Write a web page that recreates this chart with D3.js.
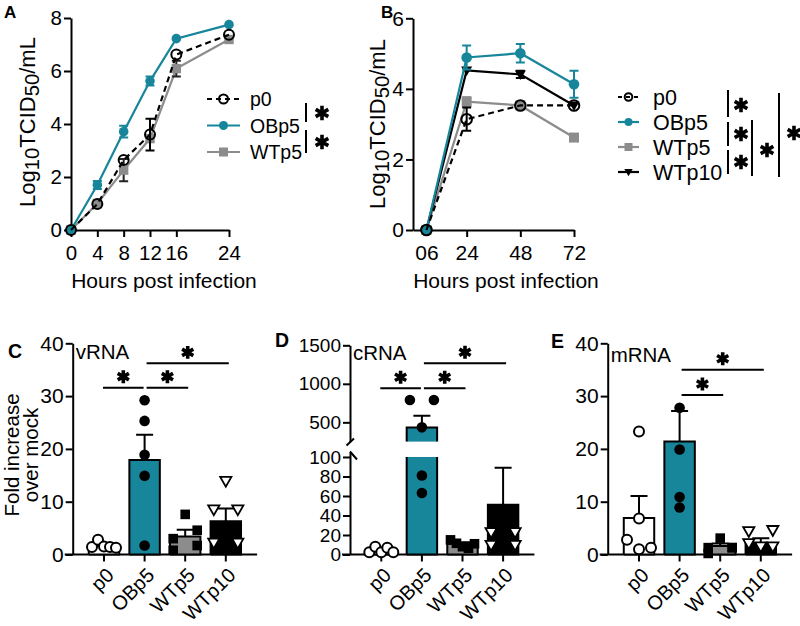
<!DOCTYPE html>
<html>
<head>
<meta charset="utf-8">
<script src="https://cdn.jsdelivr.net/npm/d3@7"></script>
<style>
  body { margin: 0; background: #fff; }
  svg { display: block; font-family: "Liberation Sans", Arial, Helvetica, sans-serif; }
</style>
</head>
<body>
<div id="wrapper"></div>
<script>
// ---- panel A : virus titre, 0-24 h (log10 TCID50/mL)
const hoursA = [0, 4, 8, 12, 16, 24]
const p0A = [0, 0.98, 2.64, 3.6, 6.62, 7.37]
const p0AErr = [0, 0, 0, 0.6, 0, 0]
const obp5A = [0, 1.7, 3.71, 5.62, 7.22, 7.75]
const obp5AErr = [0, 0.15, 0.22, 0.17, 0, 0]
const wtp5A = [0, 1.0, 2.26, 3.45, 6.09, 7.19]
const wtp5AErr = [0, 0, 0.42, 0, 0.3, 0]
const xTicksA = [0, 4, 8, 12, 16, 24]
const yTicksA = [0, 2, 4, 6, 8]

// ---- panel B : virus titre, 6-72 h
const hoursB = [6, 24, 48, 72]
const p0B = [0, 3.14, 3.53, 3.53]
const p0BErr = [0, 0.33, 0, 0]
const obp5B = [0, 4.89, 5.01, 4.13]
const obp5BErr = [0, 0.34, 0.26, 0.38]
const wtp5B = [0, 3.64, 3.53, 2.62]
const wtp5BErr = [0, 0.12, 0, 0.08]
const wtp10B = [0, 4.52, 4.41, 3.53]
const wtp10BErr = [0, 0, 0.1, 0]
const xTicksB = [6, 24, 48, 72]
const xTickLabelsB = ["06", "24", "48", "72"]
const yTicksB = [0, 2, 4, 6]

// ---- panels C-E : fold increase over mock
const groups = ["p0", "OBp5", "WTp5", "WTp10"]

const vrnaMean = [1.6, 17.9, 3.4, 6.3]
const vrnaSem = [0.3, 4.8, 1.3, 2.4]
const vrnaPoints = [
  [1.4, 2.8, 1.5, 1.4, 1.3],
  [29.2, 25.3, 18.9, 14.9, 1.7],
  [7.6, 4.6, 3.0, 1.7, 0.8],
  [13.9, 8.5, 8.5, 2.2, 2.2]
]
const vrnaTicks = [0, 10, 20, 30, 40]
const vrnaSig = [["p0", "OBp5", 31.6], ["OBp5", "WTp5", 31.6], ["OBp5", "WTp10", 36.2]]

const crnaMean = [4.4, 432, 11, 51]
const crnaSem = [1.5, 154, 1.5, 38]
const crnaPoints = [
  [2.3, 8, 2.3, 7, 2.3],
  [790, 790, 435, 81, 63],
  [15, 11.5, 8, 6.4, 11],
  [22.7, 22.7, 9.7, 9.7]
]
const crnaTicksLow = [0, 20, 40, 60, 80, 100]
const crnaTicksHigh = [500, 1000, 1500]
const crnaSig = [["p0", "OBp5", 942], ["OBp5", "WTp5", 942], ["OBp5", "WTp10", 1266]]

const mrnaMean = [6.9, 21.4, 1.6, 2.2]
const mrnaSem = [4.2, 5.8, 0.5, 0.9]
const mrnaPoints = [
  [23.3, 6.8, 2.8, 1.0, 1.3],
  [27.8, 19.9, 10.9, 8.9],
  [3.1, 1.3, 0.2, 1.3, 1.3],
  [4.6, 4.4, 2.1, 1.5, 1.5]
]
const mrnaTicks = [0, 10, 20, 30, 40]
const mrnaSig = [["OBp5", "WTp5", 30.2], ["OBp5", "WTp10", 35.0]]

// colours
const teal = "#17869b"
const grey = "#8c8c8c"

function drawFigure() {
  const svg = d3.select("#wrapper").append("svg")
      .attr("width", 800)
      .attr("height", 626)
  svg.append("rect").attr("width", 800).attr("height", 626).attr("fill", "#fff")

  const plain = d => String(d)

  // ---------- helpers
  const styleAxis = (sel, fontSize) => {
    sel.attr("font-family", null)
    sel.select(".domain").attr("stroke", "#000").attr("stroke-width", 2)
    sel.selectAll(".tick line").attr("stroke", "#000").attr("stroke-width", 2)
    sel.selectAll(".tick text").attr("fill", "#000").attr("font-size", fontSize)
  }

  const marker = (g, shape, x, y, s, color) => {
    if (shape === "openCircle") {
      g.append("circle").attr("cx", x).attr("cy", y).attr("r", s)
        .attr("fill", "none").attr("stroke", color).attr("stroke-width", 2)
    } else if (shape === "whiteCircle") {
      g.append("circle").attr("cx", x).attr("cy", y).attr("r", s)
        .attr("fill", "#fff").attr("stroke", color).attr("stroke-width", 2)
    } else if (shape === "circle") {
      g.append("circle").attr("cx", x).attr("cy", y).attr("r", s).attr("fill", color)
    } else if (shape === "square") {
      g.append("rect").attr("x", x - s).attr("y", y - s)
        .attr("width", 2 * s).attr("height", 2 * s).attr("fill", color)
    } else if (shape === "triangleDown") {
      g.append("path")
        .attr("d", `M${x - s * 1.1},${y - s * 0.8}L${x + s * 1.1},${y - s * 0.8}L${x},${y + s * 1.1}Z`)
        .attr("fill", color)
    } else if (shape === "openTriangleDown") {
      g.append("path")
        .attr("d", `M${x - s},${y - s * 0.75}L${x + s},${y - s * 0.75}L${x},${y + s}Z`)
        .attr("fill", "#fff").attr("stroke", color).attr("stroke-width", 1.8)
    }
  }

  const star = (g, x, y, size) => {
    g.append("path")
      .attr("d", d3.symbol(d3.symbolAsterisk, size)())
      .attr("transform", `translate(${x},${y})`)
      .attr("fill", "none")
      .attr("stroke", "#000")
      .attr("stroke-width", 3.6)
  }

  const panelLetter = (x, y, t, fs) => {
    svg.append("text").attr("x", x).attr("y", y)
      .attr("font-size", fs).attr("font-weight", "bold").text(t)
  }

  const log10Label = (x, y, fs) => {
    const t = svg.append("text")
      .attr("transform", `translate(${x},${y}) rotate(-90)`)
      .attr("text-anchor", "middle")
      .attr("font-size", fs)
    t.append("tspan").text("Log")
    t.append("tspan").text("10").attr("dy", 4).attr("font-size", "0.92em")
    t.append("tspan").text("TCID").attr("dy", -4)
    t.append("tspan").text("50").attr("dy", 4).attr("font-size", "0.92em")
    t.append("tspan").text("/mL").attr("dy", -4)
  }

  // ---------- line panels (A, B)
  function drawLinePanel(cfg) {
    const g = svg.append("g")
    const { x, y } = cfg

    const xAxis = g.append("g")
      .attr("transform", `translate(0,${y.range()[0]})`)
      .call(d3.axisBottom(x)
        .tickValues(cfg.xTicks)
        .tickFormat((d, i) => cfg.xTickLabels ? cfg.xTickLabels[i] : plain(d))
        .tickSize(7).tickSizeOuter(0).tickPadding(8))
    styleAxis(xAxis, cfg.tickFont)
    if (cfg.hideFirstTick) xAxis.select(".tick line").remove()

    const yAxis = g.append("g")
      .attr("transform", `translate(${x.range()[0]},0)`)
      .call(d3.axisLeft(y).tickValues(cfg.yTicks).tickFormat(plain)
        .tickSize(7).tickSizeOuter(0).tickPadding(2))
    styleAxis(yAxis, cfg.tickFont)

    cfg.series.forEach(s => {
      const pts = cfg.xs.map((h, i) => [x(h), y(s.values[i])])
      g.append("path")
        .attr("d", d3.line()(pts))
        .attr("fill", "none")
        .attr("stroke", s.color)
        .attr("stroke-width", 2.2)
        .attr("stroke-dasharray", s.dash || null)
      s.err.forEach((e, i) => {
        if (!e) return
        const cx = x(cfg.xs[i])
        const lo = y(s.values[i] - e), hi = y(s.values[i] + e)
        g.append("path")
          .attr("d", `M${cx},${lo}V${hi}M${cx - 4.5},${hi}H${cx + 4.5}M${cx - 4.5},${lo}H${cx + 4.5}`)
          .attr("stroke", s.errColor).attr("stroke-width", 2).attr("fill", "none")
      })
      pts.forEach(p => marker(g, s.shape, p[0], p[1], s.size, s.color))
    })

    // legend
    cfg.legend.forEach((l, i) => {
      const ly = cfg.legendY + i * cfg.legendStep
      g.append("line")
        .attr("x1", cfg.legendX).attr("x2", cfg.legendX + cfg.legendLen)
        .attr("y1", ly).attr("y2", ly)
        .attr("stroke", l.color).attr("stroke-width", 2.2)
        .attr("stroke-dasharray", l.dash || null)
      marker(g, l.shape, cfg.legendX + cfg.legendLen / 2, ly, l.size, l.color)
      g.append("text")
        .attr("x", cfg.legendX + cfg.legendLen + cfg.legendGap)
        .attr("y", ly)
        .attr("dy", "0.36em")
        .attr("font-size", cfg.legendFont)
        .text(l.name)
    })

    // x title
    g.append("text")
      .attr("x", cfg.titleX).attr("y", 288)
      .attr("text-anchor", "middle")
      .attr("font-size", 21)
      .text("Hours post infection")
  }

  const xA = d3.scaleLinear().domain([0, 24]).range([71, 229])
  const yA = d3.scaleLinear().domain([0, 8]).range([230, 18])
  drawLinePanel({
    x: xA, y: yA, xs: hoursA, xTicks: xTicksA, yTicks: yTicksA, tickFont: 20.5,
    series: [
      { values: wtp5A, err: wtp5AErr, color: grey, errColor: "#222", shape: "square", size: 4.7 },
      { values: obp5A, err: obp5AErr, color: teal, errColor: teal, shape: "circle", size: 4.8 },
      { values: p0A, err: p0AErr, color: "#000", errColor: "#000", dash: "6,4", shape: "openCircle", size: 5 }
    ],
    legend: [
      { name: "p0", color: "#000", dash: "5,4", shape: "openCircle", size: 4.5 },
      { name: "OBp5", color: teal, shape: "circle", size: 4.5 },
      { name: "WTp5", color: grey, shape: "square", size: 4.5 }
    ],
    legendX: 207, legendLen: 33, legendGap: 10, legendY: 99, legendStep: 26.5, legendFont: 19.5,
    titleX: 164
  })
  log10Label(35, 122, 22)
  panelLetter(4, 18, "A", 17)

  const xB = d3.scaleLinear().domain([0, 72]).range([413, 574])
  const yB = d3.scaleLinear().domain([0, 6]).range([230, 18.3])
  drawLinePanel({
    x: xB, y: yB, xs: hoursB, xTicks: xTicksB, xTickLabels: xTickLabelsB, yTicks: yTicksB,
    tickFont: 21, hideFirstTick: true,
    series: [
      { values: wtp5B, err: wtp5BErr, color: grey, errColor: grey, shape: "square", size: 5 },
      { values: wtp10B, err: wtp10BErr, color: "#000", errColor: "#000", shape: "triangleDown", size: 5 },
      { values: obp5B, err: obp5BErr, color: teal, errColor: teal, shape: "circle", size: 5.3 },
      { values: p0B, err: p0BErr, color: "#000", errColor: "#000", dash: "6,4", shape: "openCircle", size: 5.3 }
    ],
    legend: [
      { name: "p0", color: "#000", dash: "4,4", shape: "openCircle", size: 3.8 },
      { name: "OBp5", color: teal, shape: "circle", size: 4 },
      { name: "WTp5", color: grey, shape: "square", size: 4 },
      { name: "WTp10", color: "#000", shape: "triangleDown", size: 3.8 }
    ],
    legendX: 618, legendLen: 21, legendGap: 14, legendY: 97, legendStep: 25, legendFont: 21.5,
    titleX: 506
  })
  log10Label(385, 124, 22)
  panelLetter(381, 18, "B", 17)

  // significance brackets beside the legends
  const sig = svg.append("g").attr("stroke", "#000").attr("stroke-width", 2)
  const bracket = (x, y1, y2) => sig.append("line").attr("x1", x).attr("x2", x).attr("y1", y1).attr("y2", y2)
  bracket(306, 103, 122); star(svg, 322, 113, 150)
  bracket(306, 130, 153); star(svg, 322, 142, 150)
  bracket(728, 90, 117); star(svg, 741, 105, 150)
  bracket(728, 122, 146); star(svg, 741, 134, 150)
  bracket(728, 150, 174); star(svg, 741, 162, 150)
  bracket(752, 120, 176); star(svg, 767, 150, 150)
  bracket(779, 93, 177); star(svg, 794, 133, 150)

  // ---------- bar panels (C, D, E)
  const barFill = ["#fff", teal, grey, "#000"]
  const pointShape = ["whiteCircle", "circle", "square", "openTriangleDown"]
  const pointSize = [5, 5.3, 4.8, 5.6]
  const step = 40.6

  function offsets(vals, ypos) {
    const order = vals.map((v, i) => i).sort((a, b) => ypos(vals[a]) - ypos(vals[b]))
    const clusters = []
    order.forEach(i => {
      const last = clusters[clusters.length - 1]
      if (last && ypos(vals[i]) - ypos(vals[last[last.length - 1]]) < 9) last.push(i)
      else clusters.push([i])
    })
    const off = vals.map(() => 0)
    clusters.forEach(c => {
      if (c.length < 2) return
      if (c.length % 2 === 0) c.forEach((i, k) => off[i] = k % 2 === 0 ? 12 : -12)
      else c.slice().sort((a, b) => a - b).forEach((i, k) => off[i] = -12 + 24 * k / (c.length - 1))
    })
    return off
  }

  function drawBarPanel(cfg) {
    const g = svg.append("g")
    const ax = cfg.axisX
    const y0 = cfg.y0
    const x = d3.scaleBand().domain(groups)
      .range([ax + 11, ax + 11 + 4 * step])
      .paddingInner(0.25).paddingOuter(0.125)
    const cx = d => x(d) + x.bandwidth() / 2
    const bw = x.bandwidth()

    // x axis line + ticks
    g.append("line").attr("x1", ax - 8).attr("x2", x.range()[1] + 11)
      .attr("y1", y0).attr("y2", y0).attr("stroke", "#000").attr("stroke-width", 2)
    groups.forEach(gname => {
      g.append("line").attr("x1", cx(gname)).attr("x2", cx(gname))
        .attr("y1", y0).attr("y2", y0 + 7).attr("stroke", "#000").attr("stroke-width", 2)
      g.append("text")
        .attr("transform", `translate(${cx(gname) + 11},${y0 + 22}) rotate(-45)`)
        .attr("text-anchor", "end")
        .attr("font-size", 20)
        .text(gname)
    })

    cfg.drawYAxis(g)

    // bars
    cfg.mean.forEach((m, i) => {
      const left = x(groups[i])
      cfg.segments(m).forEach(seg => {
        g.append("rect").attr("x", left).attr("width", bw)
          .attr("y", seg.top).attr("height", seg.bottom - seg.top)
          .attr("fill", barFill[i])
        const topEdge = seg.openTop ? `M${left + bw},${seg.top}` : `H${left + bw}`
        const bottomEdge = seg.openBottom ? "" : `H${left}`
        g.append("path")
          .attr("d", `M${left},${seg.bottom}L${left},${seg.top}${topEdge}L${left + bw},${seg.bottom}${bottomEdge}`)
          .attr("fill", "none").attr("stroke", "#000").attr("stroke-width", 2)
      })
      // sem (upper)
      const c = cx(groups[i])
      const top = cfg.ypos(m + cfg.sem[i])
      g.append("path")
        .attr("d", `M${c},${cfg.ypos(m)}V${top}M${c - 8.5},${top}H${c + 8.5}`)
        .attr("stroke", "#000").attr("stroke-width", 2).attr("fill", "none")
    })

    // points
    cfg.points.forEach((vals, i) => {
      const off = offsets(vals, cfg.ypos)
      vals.forEach((v, k) => marker(g, pointShape[i], cx(groups[i]) + off[k], cfg.ypos(v), pointSize[i], "#000"))
    })

    // significance lines
    cfg.sig.forEach(([a, b, lvl]) => {
      const x1 = cx(a) + (a === "OBp5" ? 2 : -1)
      const x2 = cx(b) + (b === "OBp5" ? -1 : 3)
      const ly = cfg.ypos(lvl)
      g.append("line").attr("x1", x1).attr("x2", x2).attr("y1", ly).attr("y2", ly)
        .attr("stroke", "#000").attr("stroke-width", 2)
      star(g, (x1 + x2) / 2, ly - 11, 118)
    })

    g.append("text").attr("x", ax + 3).attr("y", cfg.nameY)
      .attr("font-size", 20.5).text(cfg.name)
  }

  const simpleSegments = y => m => [{ top: y(m), bottom: y(0) }]
  const simpleAxis = (y, ax, ticks) => g => {
    const a = g.append("g").attr("transform", `translate(${ax},0)`)
      .call(d3.axisLeft(y).tickValues(ticks).tickFormat(plain).tickSize(7).tickSizeOuter(0).tickPadding(2))
    styleAxis(a, 21)
  }

  // C
  const yC = d3.scaleLinear().domain([0, 40]).range([554.5, 343.3])
  drawBarPanel({
    axisX: 72.7, y0: 554.5, ypos: yC, mean: vrnaMean, sem: vrnaSem, points: vrnaPoints,
    sig: vrnaSig, name: "vRNA", nameY: 358.5,
    segments: simpleSegments(yC), drawYAxis: simpleAxis(yC, 72.7, vrnaTicks)
  })
  panelLetter(8, 358, "C", 19.5)
  const foldTitle = svg.append("text")
    .attr("transform", "translate(0,455) rotate(-90)")
    .attr("text-anchor", "middle").attr("font-size", 20.5)
  foldTitle.append("tspan").attr("x", 0).attr("y", 18.5).text("Fold increase")
  foldTitle.append("tspan").attr("x", 0).attr("y", 37.5).text("over mock")

  // D (broken axis)
  const yLow = d3.scaleLinear().domain([0, 105]).range([554.5, 452.1])
  const yHigh = d3.scaleLinear().domain([250, 1500]).range([441.6, 345.3])
  const yD = v => v <= 105 ? yLow(v) : yHigh(v)
  drawBarPanel({
    axisX: 350, y0: 554.5, ypos: yD, mean: crnaMean, sem: crnaSem, points: crnaPoints,
    sig: crnaSig, name: "cRNA", nameY: 359.5,
    segments: m => m <= 100
      ? [{ top: yLow(m), bottom: yLow(0) }]
      : [{ top: yLow(100), bottom: yLow(0), openTop: true },
         { top: yHigh(m), bottom: yHigh(250), openBottom: true }],
    drawYAxis: g => {
      const lo = g.append("g").attr("transform", "translate(350,0)")
        .call(d3.axisLeft(yLow).tickValues(crnaTicksLow).tickFormat(plain)
          .tickSize(7).tickSizeOuter(0).tickPadding(2))
      styleAxis(lo, 19)
      const hi = g.append("g").attr("transform", "translate(350,0)")
        .call(d3.axisLeft(yHigh).tickValues(crnaTicksHigh).tickFormat(plain)
          .tickSize(7).tickSizeOuter(0).tickPadding(2))
      styleAxis(hi, 19)
      // break marks
      g.append("path")
        .attr("d", "M346.5,445.5L354,438.5M350,451.5L357,459.5")
        .attr("stroke", "#000").attr("stroke-width", 2).attr("fill", "none")
    }
  })
  panelLetter(275, 347, "D", 19.5)

  // E
  const yE = d3.scaleLinear().domain([0, 40]).range([554.5, 343.3])
  drawBarPanel({
    axisX: 607.7, y0: 554.5, ypos: yE, mean: mrnaMean, sem: mrnaSem, points: mrnaPoints,
    sig: mrnaSig, name: "mRNA", nameY: 361.5,
    segments: simpleSegments(yE), drawYAxis: simpleAxis(yE, 607.7, mrnaTicks)
  })
  panelLetter(551, 348, "E", 19.5)
}

drawFigure()
</script>
</body>
</html>
